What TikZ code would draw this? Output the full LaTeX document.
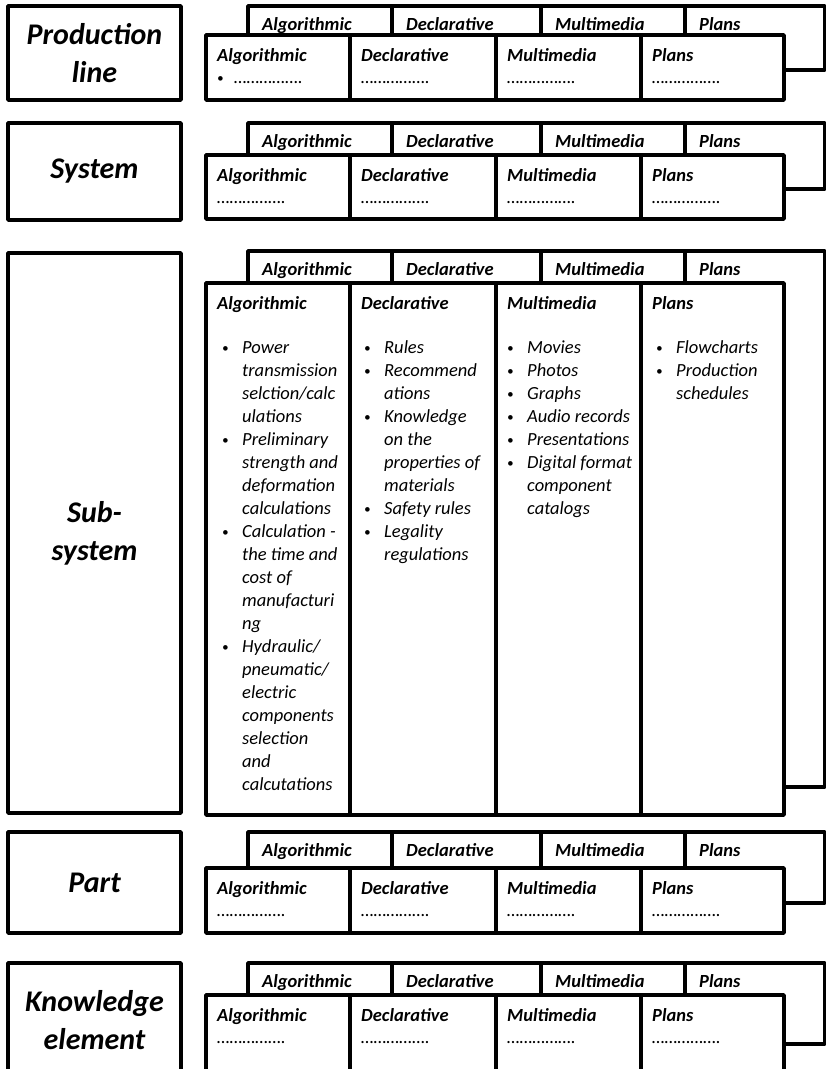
\documentclass[tikz,border=0pt]{standalone}
\usepackage{fontspec}
\setmainfont{Carlito}
\usepackage{array}
\usetikzlibrary{positioning}
\newcommand{\bul}{{\fontsize{13}{23}\selectfont\raisebox{1pt}{•}}}
% one row of stacked tabs: name, back top, front top, back bottom, front bottom
\newcommand{\tabrow}[5]{%
  \foreach \xa/\xb/\lab [count=\i] in {248/392/Algorithmic, 392/541/Declarative,
      541/685/Multimedia, 685/825/Plans}{
    \draw[tabline] (\xa,#2) rectangle (\xb,#4);
    \node[tabtext] (#1back\i) at (\xa+14,#2+24) {\lab};
  }
  \foreach \xa/\xb/\lab [count=\i] in {206/350/Algorithmic, 350/496/Declarative,
      496/641/Multimedia, 641/784/Plans}{
    \draw[tabline, fill=white] (\xa,#3) rectangle (\xb,#5);
    \node[tabtext] (#1front\i) at (\xa+11,#3+26) {\lab};
  }}
% dotted placeholders below the front tabs
\newcommand{\dotrow}[3]{%
  \node[itemtext] (#1dots1) at (217,#2+48) {#3};
  \foreach \xa [count=\i from 2] in {361, 507, 652}{
    \node[itemtext] (#1dots\i) at (\xa,#2+48) {…………….};
  }}

\begin{document}
\begin{tikzpicture}[x=1pt, y=-1pt,
    lblbox/.style={draw, line width=3.5pt, line join=round, minimum width=173pt,
      inner sep=0pt, align=center, font=\fontsize{30}{38}\selectfont\bfseries\itshape},
    tabline/.style={line width=3.5pt, line join=round},
    tabtext/.style={anchor=base west, inner sep=0pt,
      font=\fontsize{18.5}{23}\selectfont\bfseries\itshape},
    itemtext/.style={anchor=base west, inner sep=0pt,
      font=\fontsize{18.5}{23}\selectfont\itshape}
  ]
  \useasboundingbox (0,0) rectangle (826,1069);
  \clip (0,0) rectangle (826,1069);

  % levels
  \node[lblbox, minimum height=94pt] (prodline) at (94.5,53) {Production\\line};
  \node[lblbox, minimum height=97pt] (system) at (94.5,171.5) {System};
  \node[lblbox, minimum height=560pt] (subsystem) at (94.5,533) {Sub-\\system};
  \node[lblbox, minimum height=101pt] (part) at (94.5,882.5) {Part};
  \node[lblbox, minimum height=114pt] (kelement) at (94.5,1020) {Knowledge\\element};

  % production line
  \tabrow{pl}{6}{35}{70}{100}
  \dotrow{pl}{35}{\makebox[17pt][l]{\bul}…………….}

  % system
  \tabrow{sy}{123}{155}{189}{219}
  \dotrow{sy}{155}{…………….}

  % sub-system
  \tabrow{ss}{251}{283}{787}{815}
  \node[itemtext] (ssalg) at (222,353) {\begin{tabular}[t]{@{}p{20pt}@{}l@{}}
    \bul & Power\\ & transmission\\ & selction/calc\\ & ulations\\
    \bul & Preliminary\\ & strength and\\ & deformation\\ & calculations\\
    \bul & Calculation -\\ & the time and\\ & cost of\\ & manufacturi\\ & ng\\
    \bul & Hydraulic/\\ & pneumatic/\\ & electric\\ & components\\ & selection\\
      & and\\ & calcutations
  \end{tabular}};
  \node[itemtext] (ssdecl) at (364,353) {\begin{tabular}[t]{@{}p{20pt}@{}l@{}}
    \bul & Rules\\ \bul & Recommend\\ & ations\\ \bul & Knowledge\\ & on the\\
      & properties of\\ & materials\\ \bul & Safety rules\\ \bul & Legality\\ & regulations
  \end{tabular}};
  \node[itemtext] (ssmm) at (507,353) {\begin{tabular}[t]{@{}p{20pt}@{}l@{}}
    \bul & Movies\\ \bul & Photos\\ \bul & Graphs\\ \bul & Audio records\\ \bul & Presentations\\
    \bul & Digital format\\ & component\\ & catalogs
  \end{tabular}};
  \node[itemtext] (ssplans) at (656,353) {\begin{tabular}[t]{@{}p{20pt}@{}l@{}}
    \bul & Flowcharts\\ \bul & Production\\ & schedules
  \end{tabular}};

  % part
  \tabrow{pa}{832}{868}{903}{933}
  \dotrow{pa}{868}{…………….}

  % knowledge element
  \tabrow{ke}{963}{995}{1044}{1090}
  \dotrow{ke}{995}{…………….}
\end{tikzpicture}
\end{document}
